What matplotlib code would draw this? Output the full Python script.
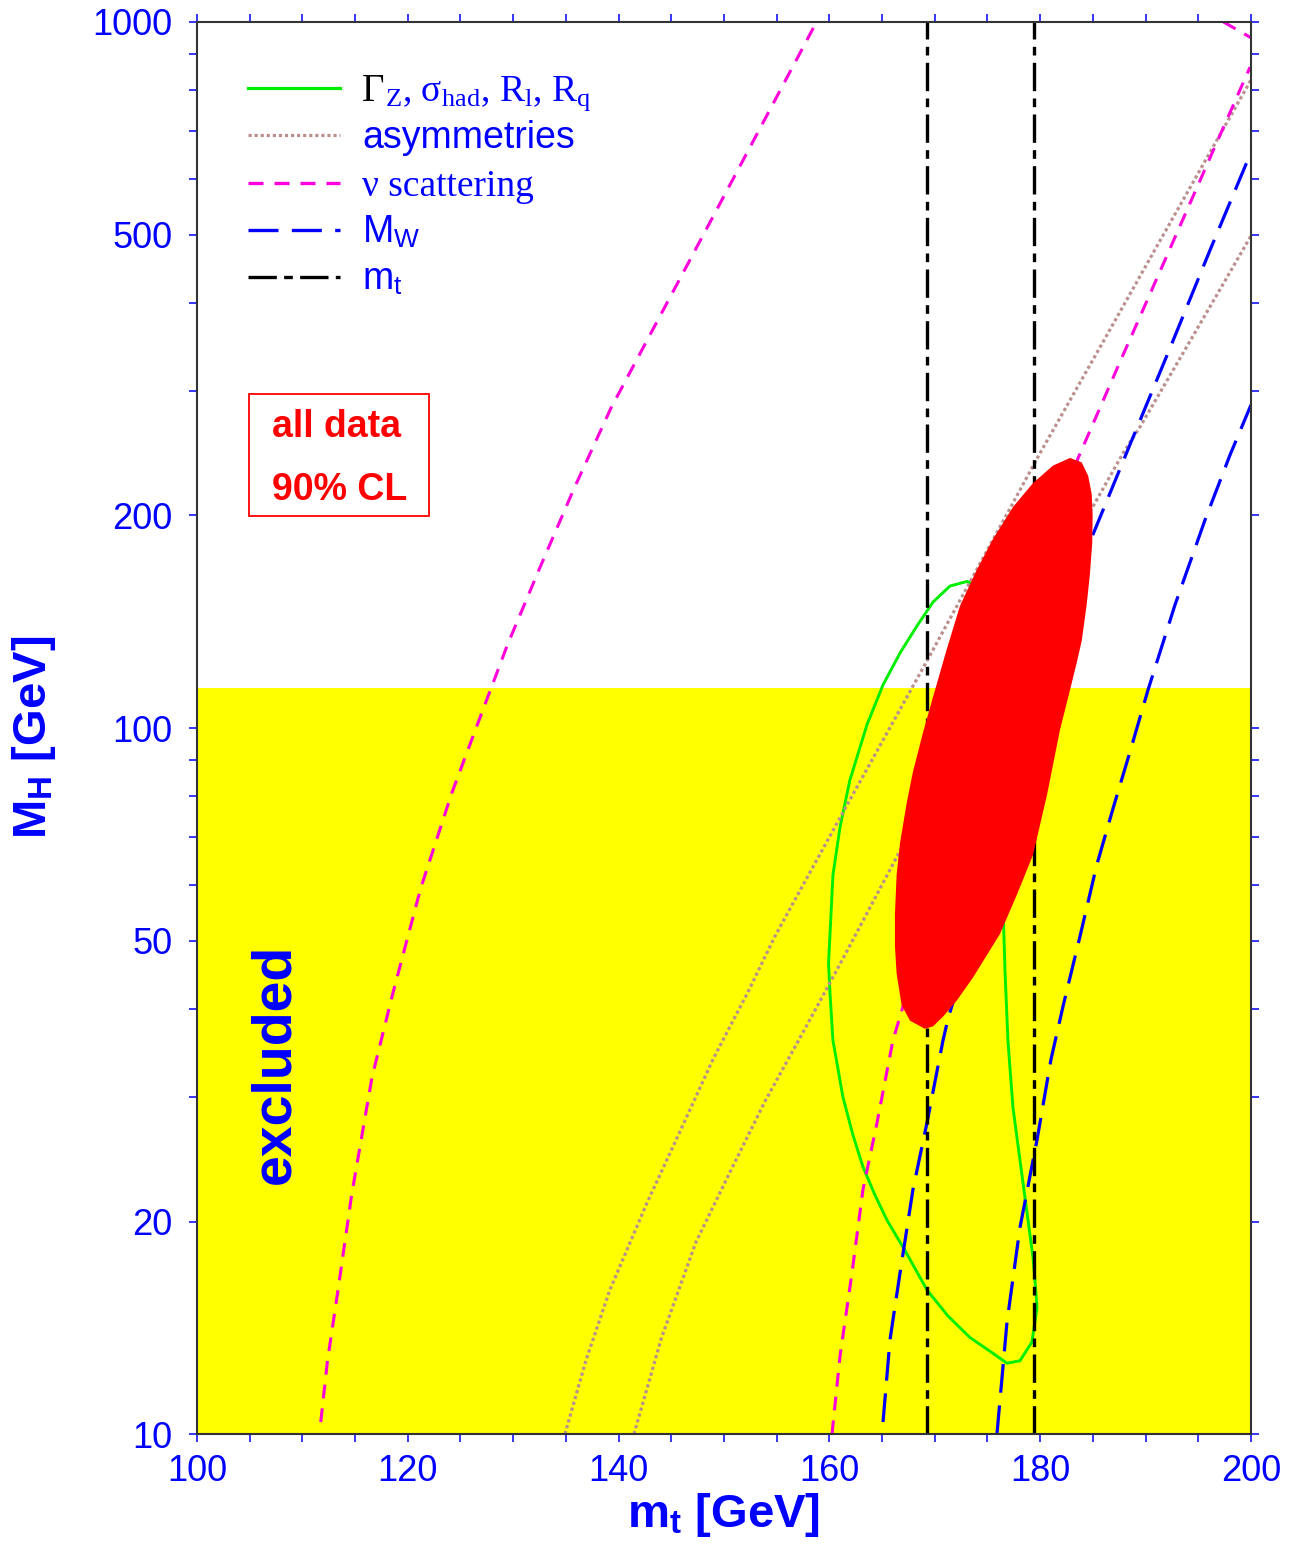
import matplotlib
matplotlib.use('Agg')
import matplotlib.pyplot as plt
from matplotlib.patches import Rectangle
from matplotlib.ticker import FixedLocator, NullFormatter

plt.rcParams['font.family'] = 'Liberation Sans'
plt.rcParams['mathtext.fontset'] = 'custom'
plt.rcParams['mathtext.rm'] = 'Liberation Serif'
plt.rcParams['mathtext.it'] = 'Liberation Serif:italic'
plt.rcParams['mathtext.bf'] = 'Liberation Sans:bold'
plt.rcParams['mathtext.sf'] = 'Liberation Sans'

# --- data (m_t in GeV, M_H in GeV) ---
nu_left_x = [111.74, 112.38, 113.38, 114.67, 116.60, 118.60, 121.21, 124.15, 126.76,
             129.44, 132.48, 135.75, 139.28, 145.35, 152.12, 155.5, 158.78]
nu_left_y = [10.4, 12.7, 16.0, 21.8, 32.0, 42.2, 59.2, 80.7, 102.6,
             131, 168, 218, 284, 420, 650, 809, 1000]
nu_right_x = [160.25, 161.01, 162.14, 163.19, 164.52, 166.03, 174.76, 183.59,
              187.57, 191.84, 196.11, 199.91]
nu_right_y = [10.0, 12.9, 16.9, 22.2, 27.6, 36.1, 99.4, 241,
              330, 460, 642, 863]
nu_corner_x = [197.4, 200.0]
nu_corner_y = [1000, 950]

asym_left_x = [134.91, 136.89, 139.17, 142.6, 145.71, 148.98, 152.25, 154.86, 161.0,
               169.26, 174.62, 179.98, 185.67, 191.37, 200.1]
asym_left_y = [10, 12.7, 16.0, 21.1, 26.6, 34.0, 42.2, 50.8, 74.6,
               124.5, 174.5, 245, 346, 490, 833]
asym_right_x = [141.46, 144.08, 147.34, 150.57, 153.89, 157.12, 161.01, 166.7, 175.8,
                185.01, 187.86, 189.47, 194.4, 197.34, 200.07]
asym_right_y = [10, 13.7, 18.7, 23.5, 29.6, 36.2, 46.3, 67, 117,
                206, 245, 267, 357, 425, 500]

mw_left_x = [165.09, 165.75, 166.70, 167.93, 169.26, 170.78, 171.25, 178.08, 185.01,
             188.52, 192.31, 196.11, 200.1]
mw_left_y = [10.4, 13.6, 16.9, 22.2, 27.6, 36.1, 38.7, 85.5, 188,
             252, 345, 475, 659]
mw_right_x = [175.90, 176.85, 178.08, 179.70, 181.02, 182.16, 183.78, 185.36, 186.91,
              188.52, 190.23, 192.79, 195.64, 198.01, 200.0]
mw_right_y = [10.0, 14.4, 19.6, 26.1, 33.9, 40.3, 50.7, 63.9, 76.9,
              92.5, 113.2, 149.4, 197.1, 243.6, 286.8]

mt_lo, mt_hi = 169.3, 179.4

zpole_x = [173.62, 173.06, 171.44, 169.83, 168.31, 166.70, 165.09, 163.57, 161.95, 161.01,
           160.34, 160.06, 159.92, 160.06, 160.34, 161.29, 162.24, 163.19, 164.33, 165.46,
           167.17, 169.26, 171.25, 173.34, 175.24, 176.85, 178.08, 179.22, 179.70, 179.51,
           179.32, 178.37, 177.42, 176.94, 176.66, 176.47, 176.19, 175.24, 173.81, 173.62]
zpole_y = [160, 161.3, 158.9, 150.8, 139.5, 127.7, 115.1, 101.1, 84.4, 72.4,
           61.9, 51.1, 46.4, 42.1, 36.1, 30.0, 26.5, 23.9, 21.8, 20.1,
           18.2, 16.0, 14.7, 13.7, 13.1, 12.6, 12.7, 13.5, 15.1, 16.5,
           17.8, 22.7, 29.0, 36.1, 45.4, 56.7, 79.1, 117, 154, 160]

all_x = [182.83, 183.94, 184.56, 184.89, 184.98, 184.94, 184.72, 184.41, 183.94, 183.46,
         182.83, 181.88, 180.65, 179.32, 177.80, 176.19, 173.62, 172.08, 170.78, 169.83,
         169.07, 167.65, 166.86, 166.38, 166.22, 166.22, 166.38, 166.70, 167.33, 167.93,
         168.88, 169.83, 171.13, 172.39, 173.97, 175.52, 177.42, 179.32, 181.21]
all_y = [241.3, 237.8, 227.5, 214.5, 199.7, 182.8, 165.2, 149.4, 132.8, 123.6,
         113.2, 99.4, 80.4, 66.1, 58.1, 51.1, 44.3, 41.1, 39.0, 37.8,
         37.5, 38.5, 40.5, 44.9, 49.1, 54.5, 61.9, 68.7, 78.2, 86.7,
         98.5, 110.6, 129.2, 148.9, 167.4, 185.2, 205.6, 222.3, 235.3]

excluded_limit = 114

x_major = [100, 120, 140, 160, 180, 200]
x_minor = [105, 110, 115, 125, 130, 135, 145, 150, 155, 165, 170, 175, 185, 190, 195]
y_major = [10, 20, 50, 100, 200, 500, 1000]
y_minor = [30, 40, 60, 70, 80, 90, 300, 400, 600, 700, 800, 900]

# --- figure ---
fig = plt.figure(figsize=(13.02, 15.49), dpi=100)
ax = fig.add_axes([0.1513, 0.0742, 0.8095, 0.9116])
ax.set_yscale('log')
ax.set_xlim(100, 200)
ax.set_ylim(10, 1000)

ax.axhspan(10, excluded_limit, color='#ffff00', lw=0, zorder=0)

green = '#00ee00'
brown = '#bc8f8f'
magenta = '#ff00dd'
blue = '#0000ff'

ax.plot(zpole_x, zpole_y, color=green, lw=2.1, zorder=2)
for xs, ys in [(asym_left_x, asym_left_y), (asym_right_x, asym_right_y)]:
    ax.plot(xs, ys, color=brown, lw=2.3, dashes=(1, 0.9), zorder=2)
for xs, ys in [(nu_left_x, nu_left_y), (nu_right_x, nu_right_y), (nu_corner_x, nu_corner_y)]:
    ax.plot(xs, ys, color=magenta, lw=2.2, dashes=(4.5, 3.3), zorder=3)
for xs, ys in [(mw_left_x, mw_left_y), (mw_right_x, mw_right_y)]:
    ax.plot(xs, ys, color=blue, lw=2.3, dashes=(9, 4), zorder=3)
for m in (mt_lo, mt_hi):
    ax.plot([m, m], [10, 1000], color='black', lw=2.4, dashes=(8.5, 2.2, 2.6, 2.2), zorder=3)

ax.fill(all_x, all_y, color='#ff0000', lw=0, zorder=6)

# ticks
ax.xaxis.set_major_locator(FixedLocator(x_major))
ax.set_xticklabels([str(v) for v in x_major])
ax.xaxis.set_minor_locator(FixedLocator(x_minor))
ax.yaxis.set_major_locator(FixedLocator(y_major))
ax.set_yticklabels([str(v) for v in y_major])
ax.yaxis.set_minor_locator(FixedLocator(y_minor))
ax.yaxis.set_minor_formatter(NullFormatter())
ax.tick_params(which='both', direction='out', length=5.5, width=1.1, color=blue,
               top=True, right=True, labelsize=26, labelcolor=blue)
ax.tick_params(axis='x', pad=9)
ax.tick_params(axis='y', pad=12)
for s in ax.spines.values():
    s.set_linewidth(1.5)
    s.set_color('#333333')
    s.set_zorder(10)

ax.set_xlabel(r'm$_{\mathbf{t}}$ [GeV]', fontsize=34, fontweight='bold', color=blue)
ax.xaxis.set_label_coords(0.5, -0.040)
ax.set_ylabel(r'M$_{\mathbf{H}}$ [GeV]', fontsize=34, fontweight='bold', color=blue)
ax.yaxis.set_label_coords(-0.132, 0.4936)

# legend drawn by hand
rows = [0.9533, 0.9200, 0.8860, 0.8527, 0.8194]
styles = [
    dict(color=green, lw=2.3),
    dict(color=brown, lw=2.3, dashes=(1, 0.9)),
    dict(color=magenta, lw=2.4, dashes=(4.5, 3.3)),
    dict(color=blue, lw=2.4, dashes=(9, 4)),
    dict(color='black', lw=2.4, dashes=(8.5, 2.2, 2.6, 2.2)),
]
for yr, st in zip(rows, styles):
    ax.plot([0.0484, 0.1357], [yr, yr], transform=ax.transAxes, clip_on=False, zorder=7, **st)

tx = 0.1565
dy = 13 / 1412
ax.text(tx, rows[0] - dy, '\u0393', transform=ax.transAxes, fontsize=28, color='black',
        family='Liberation Serif', ha='left', va='baseline', zorder=9)
ax.annotate(r'${}_{\rm Z}$, $\mathrm{\sigma}_{\rm had}$, R$_{\rm l}$, R$_{\rm q}$',
            xy=(tx, rows[0] - dy), xycoords='axes fraction',
            xytext=(16.8, 0), textcoords='offset points',
            fontsize=27, color=blue, family='Liberation Serif',
            ha='left', va='baseline', zorder=8)
ax.text(tx, rows[1] - dy, 'asymmetries', transform=ax.transAxes, fontsize=27, color=blue,
        ha='left', va='baseline', zorder=8)
ax.text(tx, rows[2] - dy, '\u03bd scattering', transform=ax.transAxes, fontsize=27, color=blue,
        family='Liberation Serif', ha='left', va='baseline', zorder=8)
ax.text(tx, rows[3] - dy, r'M$_{\mathsf{W}}$', transform=ax.transAxes, fontsize=27, color=blue,
        ha='left', va='baseline', zorder=8)
ax.text(tx, rows[4] - dy, r'm$_{\mathsf{t}}$', transform=ax.transAxes, fontsize=27, color=blue,
        ha='left', va='baseline', zorder=8)

# "all data 90% CL" box
ax.add_patch(Rectangle((0.0493, 0.6501), 0.1708, 0.0864, transform=ax.transAxes,
                       fill=False, edgecolor='#ff0000', lw=1.3, zorder=8))
ax.text(0.0712, 0.7061, 'all data', transform=ax.transAxes, fontsize=27, fontweight='bold',
        color='#ff0000', ha='left', va='baseline', zorder=8)
ax.text(0.0712, 0.6615, '90% CL', transform=ax.transAxes, fontsize=27, fontweight='bold',
        color='#ff0000', ha='left', va='baseline', zorder=8)

ax.text(107.4, 33.4, 'excluded', rotation=90, fontsize=40, fontweight='bold', color=blue,
        ha='center', va='center', zorder=8)

fig.savefig('out.png', dpi=100)
